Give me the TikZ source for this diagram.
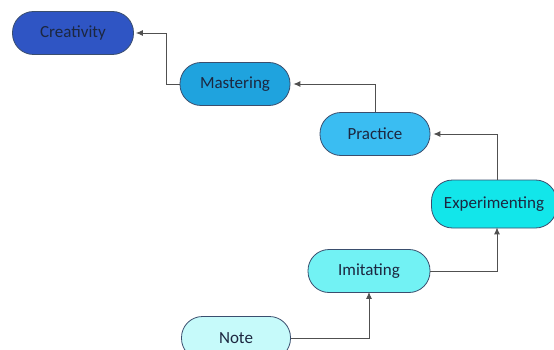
\documentclass[tikz,border=0pt]{standalone}
\usepackage{fontspec}
\setmainfont{Carlito}
\usetikzlibrary{positioning, arrows.meta}

\definecolor{edgeblue}{HTML}{3A4E6E}
\definecolor{textnavy}{HTML}{1C2740}
\definecolor{linegray}{HTML}{505050}
\definecolor{creafill}{HTML}{2F55C4}
\definecolor{mastfill}{HTML}{1FA3DE}
\definecolor{pracfill}{HTML}{3ABDF2}
\definecolor{expfill}{HTML}{12E6EA}
\definecolor{imitfill}{HTML}{72F2F4}
\definecolor{notefill}{HTML}{C6FAFA}

\begin{document}
\begin{tikzpicture}[
    x=1pt, y=-1pt,
    every node/.style={font=\fontsize{17}{19}\selectfont, text=textnavy},
    stage/.style={draw=edgeblue, line width=0.8pt, rounded corners=21pt,
                  minimum width=110pt, minimum height=43pt, inner sep=0pt},
    link/.style={draw=linegray, line width=0.9pt, -{Latex[length=7pt,width=6pt]}},
]
\useasboundingbox (0,0) rectangle (554,350);

% ── Stages, from the top left down to the bottom ─────────────────────────────
\node[stage, fill=creafill, minimum width=121pt] (creativity) at (73,33) {Creativity};
\node[stage, fill=mastfill] (mastering) at (235,84) {Mastering};
\node[stage, fill=pracfill] (practice) at (375,134) {Practice};
\node[stage, fill=expfill, minimum width=125pt, minimum height=48pt] (experimenting) at (494,204) {Experimenting};
\node[stage, fill=imitfill, minimum width=122pt] (imitating) at (369,271) {Imitating};
\node[stage, fill=notefill, minimum width=109pt] (note) at (236,338) {Note};

% ── Connectors ──────────────────────────────────────────────────────────────
\coordinate (bendA) at (166,84);
\draw[link] (mastering.west) -- (bendA) |- ([xshift=2pt]creativity.east);
\draw[link] (practice.north) |- ([xshift=3pt]mastering.east);
\draw[link] (experimenting.north -| 497,0) |- ([xshift=3pt]practice.east);
\draw[link] (imitating.east) -| ([yshift=1pt]497,0 |- experimenting.south);
\draw[link] (note.east) -| ([yshift=1pt]imitating.south);

\end{tikzpicture}
\end{document}
